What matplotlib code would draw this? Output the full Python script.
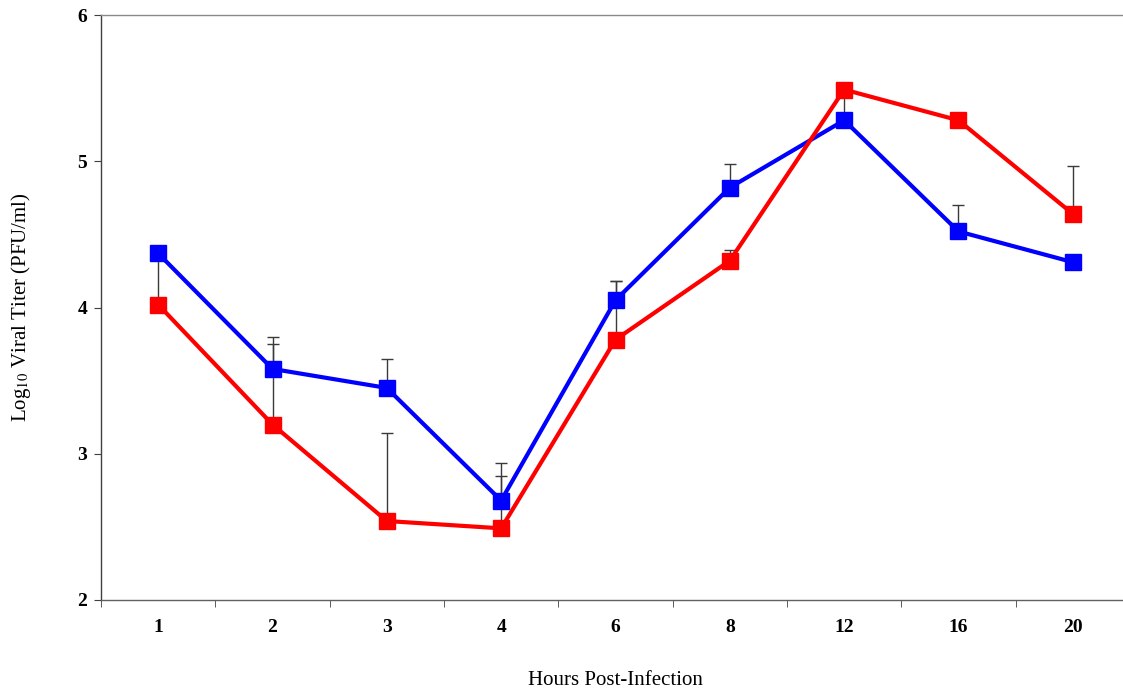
import matplotlib
matplotlib.use("Agg")
import matplotlib.pyplot as plt
import numpy as np

plt.rcParams["font.family"] = ["Liberation Serif", "DejaVu Serif"]
plt.rcParams["mathtext.fontset"] = "stix"

hours = ["1", "2", "3", "4", "6", "8", "12", "16", "20"]

blue_mean = [4.37, 3.58, 3.45, 2.68, 4.05, 4.82, 5.28, 4.52, 4.31]
blue_err = [0.02, 0.22, 0.20, 0.26, 0.13, 0.16, 0.17, 0.18, 0.02]

red_mean = [4.02, 3.20, 2.54, 2.49, 3.78, 4.32, 5.49, 5.28, 4.64]
red_err = [0.34, 0.55, 0.60, 0.36, 0.40, 0.07, 0.02, 0.02, 0.33]

fig = plt.figure(figsize=(11.23, 6.9), dpi=100)
ax = fig.add_axes([101 / 1123, 90 / 690, 1029 / 1123, 585 / 690])

x = np.arange(len(hours))

for mean, err in [(blue_mean, blue_err), (red_mean, red_err)]:
    ax.errorbar(x, mean, yerr=[np.zeros(len(err)), err], fmt="none",
                ecolor="#3a3a3a", elinewidth=1, capsize=4, capthick=1, zorder=1)

ax.plot(x, blue_mean, color="#0000ff", lw=3, marker="s", ms=12,
        mec="#0000ff", zorder=2)
ax.plot(x, red_mean, color="#ff0000", lw=3, marker="s", ms=12,
        mec="#ff0000", zorder=3)

ax.set_xlim(-0.5, 8.5)
ax.set_ylim(2, 6)
ax.set_yticks([2, 3, 4, 5, 6])
ax.set_xticks(x)
ax.set_xticklabels(hours)
ax.set_xticks(np.arange(-0.5, 8.5, 1), minor=True)
ax.tick_params(axis="x", which="major", length=0, pad=14, labelsize=14)
ax.tick_params(axis="x", which="minor", length=5, direction="out", color="#404040")
ax.tick_params(axis="y", length=5, direction="out", color="#404040", labelsize=14, pad=5)
for lab in ax.get_xticklabels() + ax.get_yticklabels():
    lab.set_fontweight("bold")

ax.spines["right"].set_visible(False)
ax.spines["top"].set_color("#8a8a8a")
ax.spines["left"].set_color("#404040")
ax.spines["bottom"].set_color("#606060")
for s in ax.spines.values():
    s.set_linewidth(1)

ax.set_xlabel("Hours Post-Infection", fontsize=15, labelpad=25)
ax.set_ylabel(r"Log$_{10}$ Viral Titer (PFU/ml)", fontsize=15, labelpad=32)

fig.savefig("out.png", dpi=100)
